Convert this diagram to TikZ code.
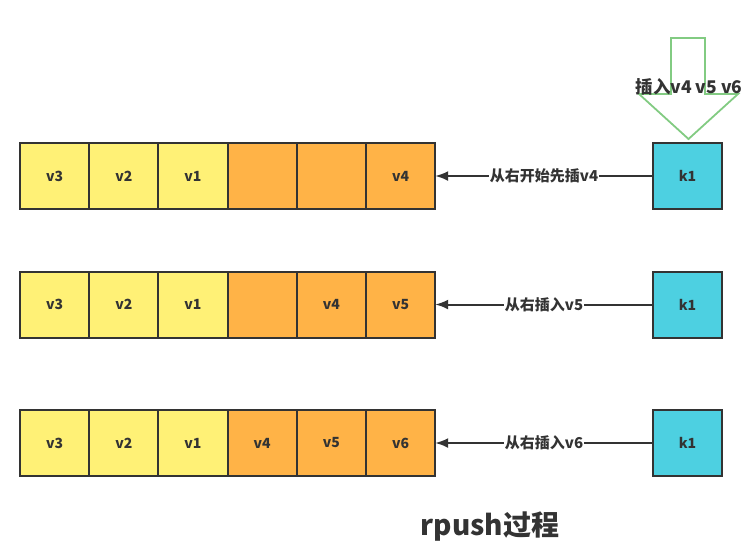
\documentclass[tikz,border=0pt]{standalone}
\usepackage{fontspec}
\setmainfont{Noto Sans CJK SC}
\usetikzlibrary{arrows.meta,positioning}
\definecolor{ink}{RGB}{51,51,51}
\definecolor{cellold}{RGB}{255,241,118}
\definecolor{cellnew}{RGB}{255,179,71}
\definecolor{keyblue}{RGB}{77,208,225}
\definecolor{pushgreen}{RGB}{130,203,130}

\begin{document}
\begin{tikzpicture}[x=1pt,y=-1pt,
    cell/.style={draw=ink,line width=2pt,minimum width=69.2pt,minimum height=66pt,inner sep=0pt,outer sep=0pt,font=\bfseries\fontsize{14}{16}\selectfont,text=ink},
    oldcell/.style={cell,fill=cellold},
    newcell/.style={cell,fill=cellnew},
    keybox/.style={cell,fill=keyblue},
    push/.style={draw=ink,line width=2pt,-{Latex[length=13pt,width=10pt]}},
    pushlabel/.style={fill=white,inner sep=1pt,font=\bfseries\fontsize{15}{17}\selectfont,text=ink}]
  \useasboundingbox (0,0) rectangle (755,555);

  % first row: v4 goes in from the right
  \node[oldcell] (a1) at (54.6,176) {v3};
  \node[oldcell,right=0pt of a1] (a2) {v2};
  \node[oldcell,right=0pt of a2] (a3) {v1};
  \node[newcell,right=0pt of a3] (a4) {};
  \node[newcell,right=0pt of a4] (a5) {};
  \node[newcell,right=0pt of a5] (a6) {v4};
  \node[keybox] (ka) at (687.5,176) {k1};
  \draw[push] (ka.west) -- node[pushlabel] {从右开始先插v4} (a6.east);

  % second row
  \node[oldcell] (b1) at (54.6,304.5) {v3};
  \node[oldcell,right=0pt of b1] (b2) {v2};
  \node[oldcell,right=0pt of b2] (b3) {v1};
  \node[newcell,right=0pt of b3] (b4) {};
  \node[newcell,right=0pt of b4] (b5) {v4};
  \node[newcell,right=0pt of b5] (b6) {v5};
  \node[keybox] (kb) at (687.5,304.5) {k1};
  \draw[push] (kb.west) -- node[pushlabel] {从右插入v5} (b6.east);

  % third row
  \node[oldcell] (c1) at (54.6,443) {v3};
  \node[oldcell,right=0pt of c1] (c2) {v2};
  \node[oldcell,right=0pt of c2] (c3) {v1};
  \node[newcell,right=0pt of c3] (c4) {v4};
  \node[newcell,right=0pt of c4] (c5) {v5};
  \node[newcell,right=0pt of c5] (c6) {v6};
  \node[keybox] (kc) at (687.5,443) {k1};
  \draw[push] (kc.west) -- node[pushlabel] {从右插入v6} (c6.east);

  % hollow arrow above the key
  \draw[pushgreen,line width=1.8pt,line join=miter]
    (671,38) -- (705,38) -- (705,94) -- (738,94) -- (688.5,139)
    -- (639,94) -- (671,94) -- cycle;
  \node[font=\bfseries\fontsize{17.5}{20}\selectfont,text=ink] (ins) at (689,87) {插入v4 v5 v6};

  \node[font=\bfseries\fontsize{28}{32}\selectfont,text=ink] (title) at (490,527) {rpush过程};
\end{tikzpicture}
\end{document}
